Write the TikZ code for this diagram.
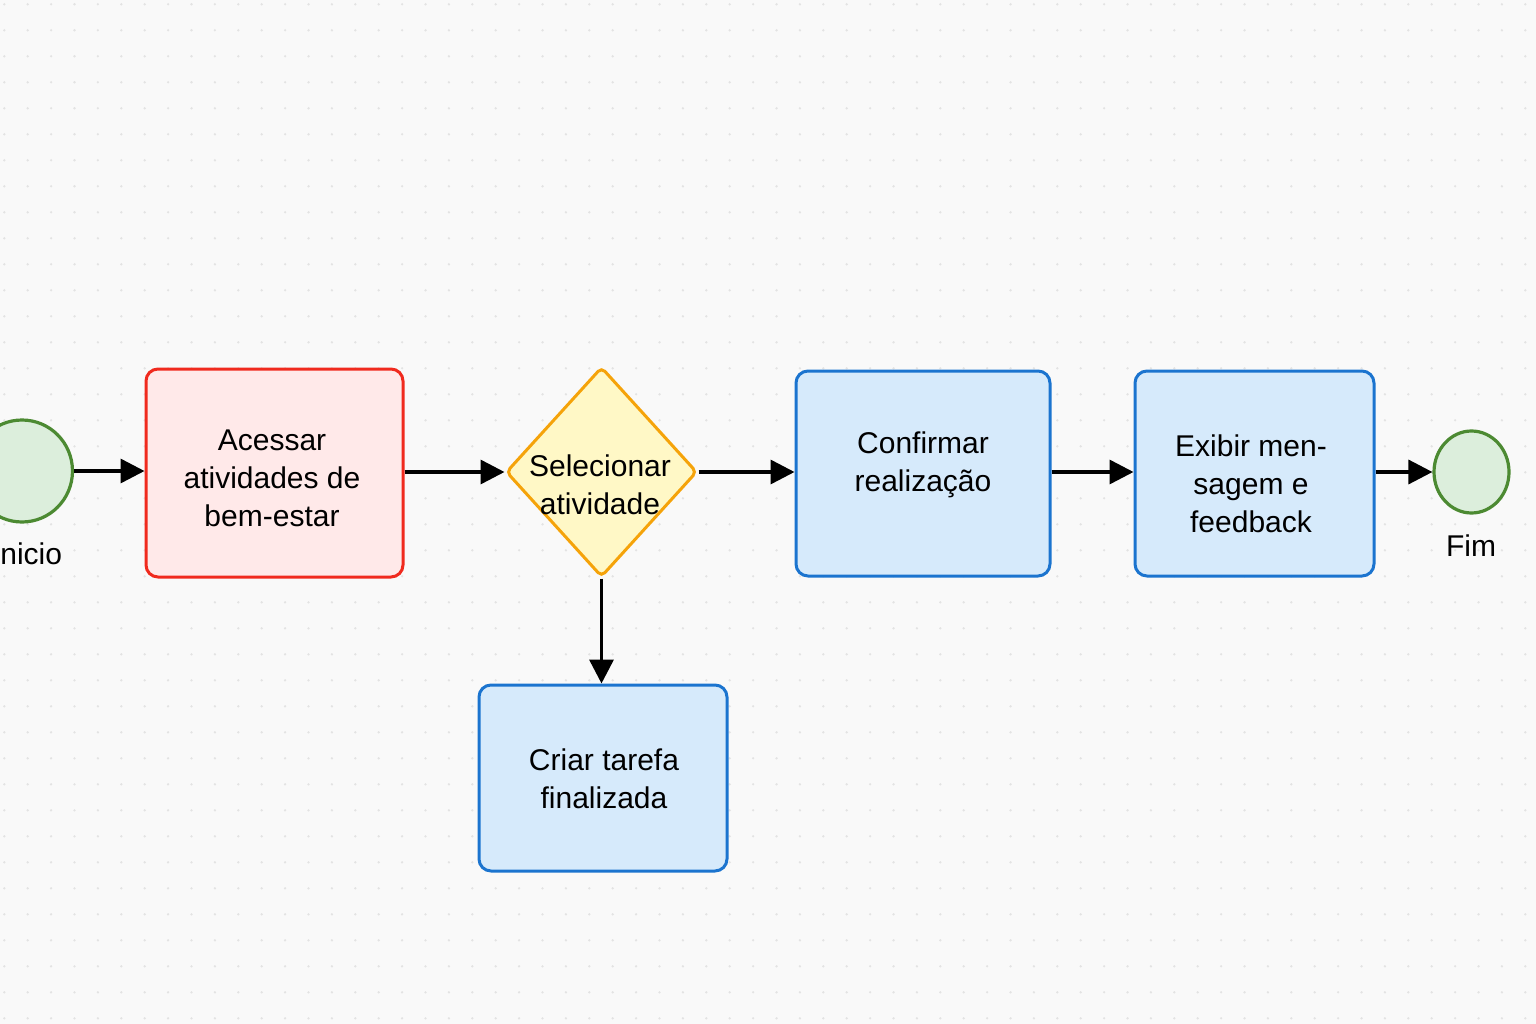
\documentclass[tikz,border=0pt]{standalone}
\usepackage{fontspec}
\setmainfont{Liberation Sans}
\usetikzlibrary{arrows.meta,shapes.geometric}
\definecolor{bgc}{HTML}{F9F9F9}
\definecolor{dotc}{HTML}{E3E3E3}
\definecolor{grs}{HTML}{4C8A32}
\definecolor{grf}{HTML}{DCEEDC}
\definecolor{rds}{HTML}{F02A1E}
\definecolor{rdf}{HTML}{FFE9E9}
\definecolor{yls}{HTML}{F5A30A}
\definecolor{ylf}{HTML}{FFF8C6}
\definecolor{bls}{HTML}{1B74CF}
\definecolor{blf}{HTML}{D6EAFB}
\tikzset{
  txt/.style={font=\fontsize{30}{38}\selectfont, align=center, inner sep=0pt, text=black},
  evt/.style={draw=grs, fill=grf, line width=3.2pt, ellipse, inner sep=0pt},
  redbox/.style={draw=rds, fill=rdf, line width=3pt, rounded corners=12pt, inner sep=0pt},
  bluebox/.style={draw=bls, fill=blf, line width=3pt, rounded corners=12pt, inner sep=0pt},
  gate/.style={draw=yls, fill=ylf, line width=3pt, diamond, rounded corners=5pt, inner sep=0pt},
  arr/.style={line width=3.5pt, -{Triangle[length=24pt,width=24pt]}, black}
}
\begin{document}
\begin{tikzpicture}[x=1pt,y=-1pt]
\fill[bgc] (0,0) rectangle (1536,1024);
\useasboundingbox (0,0) rectangle (1536,1024);
\foreach \i in {0,...,65} {
  \foreach \j in {0,...,39} {
    \fill[dotc] ({4.3+23.4*\i},{4.3+26*\j}) circle (1.3);
  }
}
% nodes
\node[evt, minimum width=101pt, minimum height=102pt] (start) at (22,471) {};
\node[txt, anchor=base] (startlbl) at (27,564) {Inicio};
\node[redbox, minimum width=257pt, minimum height=208pt] (b1) at (274.5,473) {};
\node[txt] (b1t) at (272,478) {Acessar\\atividades de\\bem-estar};
\node[gate, minimum width=191pt, minimum height=210pt] (dia) at (601.5,472) {};
\node[txt] (diat) at (600,485) {Selecionar\\atividade};
\node[bluebox, minimum width=254pt, minimum height=205pt] (b2) at (923,473.5) {};
\node[txt] (b2t) at (923,465) {Confirmar\\realização};
\node[bluebox, minimum width=239pt, minimum height=205pt] (b3) at (1254.5,473.5) {};
\node[txt] (b3t) at (1251,484) {Exibir men-\\sagem e\\feedback};
\node[evt, minimum width=75pt, minimum height=82pt] (fim) at (1471.5,472) {};
\node[txt, anchor=base] (fimlbl) at (1471,556) {Fim};
\node[bluebox, minimum width=248pt, minimum height=186pt] (b4) at (603,778) {};
\node[txt] (b4t) at (604,779) {Criar tarefa\\finalizada};
% connectors
\draw[arr] (start.east) -- (start.east -| b1.west);
\draw[arr] (b1.east |- dia.west) -- (dia.west);
\draw[arr] (dia.east) -- (dia.east -| b2.west);
\draw[arr] (b2.east |- dia.east) -- (b3.west |- dia.east);
\draw[arr] (b3.east |- fim.west) -- (fim.west);
\draw[arr] (dia.south) -- (dia.south |- b4.north);
\end{tikzpicture}
\end{document}
